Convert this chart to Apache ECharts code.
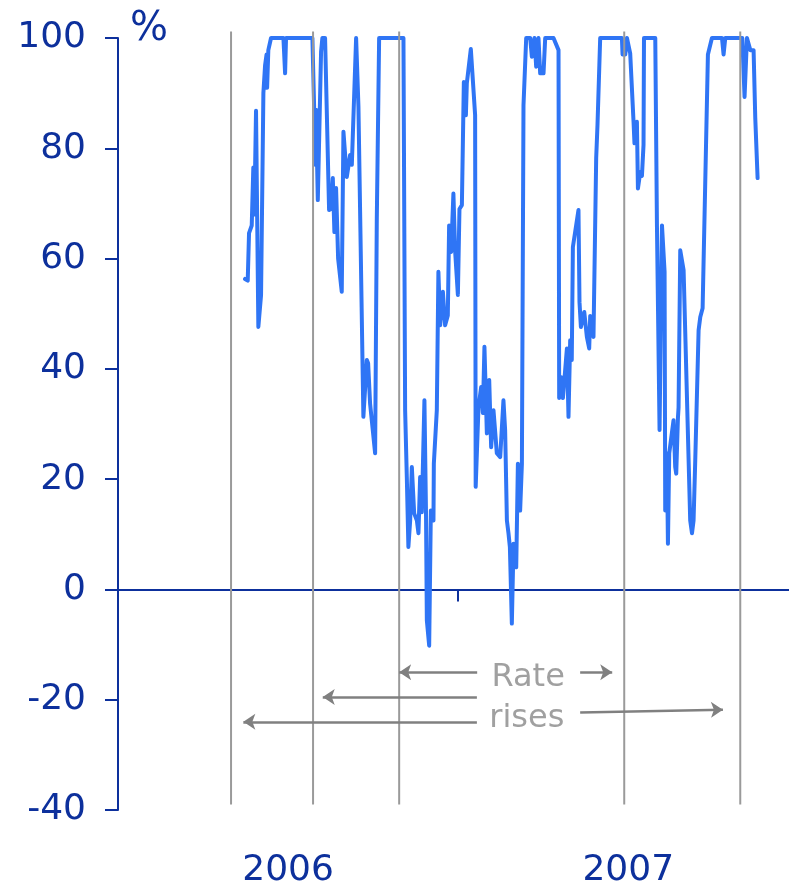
<!DOCTYPE html>
<html>
<head>
<meta charset="utf-8">
<style>
  html, body { margin: 0; padding: 0; background: #fff; }
  #chart { width: 789px; height: 885px; }
</style>
<script src="https://cdn.jsdelivr.net/npm/echarts@6/dist/echarts.min.js"></script>
</head>
<body>
<div id="chart"></div>
<script>
// x = days since 1 Jan 2006, y = per cent
const days = [
  136.3, 139.2, 140.6, 143.5, 145.2, 146.3, 148.1, 150.6, 153.5, 156.0,
  157.8, 159.4, 160.0, 161.3, 164.2, 177.5, 179.3, 180.3, 208.6, 210.4,
  211.5, 212.5, 214.4, 215.8, 217.9, 219.3, 222.2, 226.5, 228.7, 230.5,
  232.2, 234.0, 236.2, 240.1, 241.9, 245.5, 249.1, 250.9, 255.5, 258.0,
  259.8, 263.3, 267.0, 268.4, 270.5, 275.9, 277.7, 280.2, 306.3, 308.1,
  309.9, 311.6, 313.5, 315.3, 317.8, 320.7, 322.4, 324.2, 326.0, 328.8,
  330.5, 331.4, 333.9, 335.7, 338.5, 338.9, 342.1, 343.8, 345.7, 348.6,
  351.0, 353.9, 355.3, 357.5, 359.9, 361.8, 364.7, 366.4, 369.0, 371.1,
  373.3, 374.3, 378.6, 383.2, 383.8, 386.8, 389.7, 391.5, 393.2, 395.8,
  398.3, 400.4, 402.9, 406.5, 410.1, 413.6, 415.4, 417.3, 419.0, 420.5,
  422.6, 424.4, 427.3, 429.1, 431.5, 433.4, 435.1, 438.0, 442.3, 444.1,
  446.9, 448.7, 451.2, 453.0, 456.6, 458.4, 467.3, 472.7, 473.4, 475.6,
  477.4, 481.7, 483.4, 485.2, 486.9, 488.1, 494.1, 495.2, 496.7, 500.3,
  503.1, 505.6, 506.7, 510.2, 513.1, 514.5, 517.4, 540.7, 541.4, 544.3,
  546.1, 549.6, 553.2, 554.2, 556.8, 557.9, 560.4, 562.2, 563.9, 564.4,
  576.5, 578.3, 581.1, 583.7, 586.5, 587.2, 589.0, 590.1, 591.5, 596.1,
  597.9, 599.0, 600.8, 601.5, 603.3, 606.9, 614.0, 615.9, 617.6, 619.4,
  623.0, 624.8, 627.3, 633.0, 637.3, 648.1, 649.8, 651.6, 669.9, 672.3,
  674.9, 676.6, 678.5, 682.0, 683.8, 686.3
]
const pct = [
  56.3, 56, 64.6, 66, 76.5, 68, 86.8, 47.6, 53.4, 90,
  95, 97, 91, 97.8, 100, 100, 93.6, 100, 100, 87.8,
  77, 87, 70.6, 70.6, 97.5, 100, 100, 68.8, 69, 74.6,
  64.8, 72.8, 60, 54, 83, 74.8, 78.8, 77, 100, 87.5,
  87.5, 31.3, 41.6, 41, 33.7, 24.7, 67.3, 100, 100, 32.5,
  20.4, 7.7, 12.5, 22.2, 13.8, 12.5, 10.2, 20.4, 14, 34.3,
  13.8, -5.6, -10.2, 14.3, 12.5, 22.8, 32.5, 57.6, 47.9, 54,
  47.9, 49.7, 66, 61.2, 71.8, 61.2, 53.4, 69, 69.7, 92,
  86, 91.8, 98, 86, 18.6, 33, 36.7, 32, 44, 28.3,
  38, 25.8, 32.5, 24.7, 24, 34.3, 28.9, 12.5, 10.2, 7.7,
  -6.2, 8.3, 4, 22.8, 14.3, 22.8, 87.8, 100, 100, 96.6,
  100, 94.8, 100, 93.6, 93.6, 100, 100, 97.8, 34.7, 38.5,
  34.7, 43.7, 31.3, 45.2, 41.6, 62.1, 68.8, 52.1, 47.6, 50.3,
  45.8, 43.7, 49.6, 45.8, 78.2, 84.2, 100, 100, 97, 97,
  100, 97.2, 84.8, 80.9, 84.8, 72.7, 75.7, 75, 80.6, 100,
  100, 66, 28.9, 66, 57.6, 14.3, 24.7, 8.3, 24.7, 30.7,
  22.2, 21, 31, 33, 61.5, 57.9, 12.5, 10.2, 12.5, 23.4,
  47, 49.4, 51, 97, 100, 100, 97, 100, 100, 89.3,
  100, 100, 97.8, 97.8, 85.5, 74.6
]

// rate rise dates (days since 1 Jan 2006)
const riseDays = [121.3, 209.3, 301.7, 543.2, 667.7]

const yearLabels = ['2006', '2007']
const yearMid = [182.5, 547.5]

// annotation arrows: [fromDay, fromPct, toDay, toPct]
const arrows = [
  [385.4, -15.0, 301.7, -15.0],
  [495.9, -15.0, 530.3, -15.0],
  [385.1, -19.5, 219.7, -19.5],
  [385.1, -24.0, 134.5, -24.0],
  [495.9, -22.3, 649.1, -21.8]
]
const notes = [[440.1, -16.0, 'Rate'], [438.7, -23.5, 'rises']]

const navy = '#0d309c'
const font = 'DejaVu Sans'

const chart = echarts.init(document.getElementById('chart'))

const riseSeries = riseDays.map(d => ({
    type: 'line',
    data: [[d, 101.2], [d, -39]],
    symbol: 'none',
    clip: false,
    silent: true,
    z: 4,
    lineStyle: { color: '#9a9a9a', width: 2 }
}))

chart.setOption({
    animation: false,
    grid: { left: 118, right: 0, top: 38, bottom: 75, outerBoundsMode: 'none' },
    graphic: [{
        type: 'text',
        left: 130,
        top: 10,
        style: { text: '%', fontSize: 40, fontFamily: font, fill: navy }
    }],
    xAxis: [{
        type: 'value',
        min: 0,
        max: 720,
        axisLine: { onZero: true, lineStyle: { color: navy, width: 2 } },
        axisTick: { show: true, customValues: [0, 365], length: 12, lineStyle: { color: navy, width: 2 } },
        axisLabel: { show: false },
        splitLine: { show: false }
    }, {
        type: 'value',
        min: 0,
        max: 720,
        position: 'bottom',
        axisLine: { show: false, onZero: false },
        axisTick: { show: false },
        splitLine: { show: false },
        axisLabel: {
            customValues: yearMid,
            formatter: v => yearLabels[v < 365 ? 0 : 1],
            fontSize: 36,
            fontFamily: font,
            color: navy,
            margin: 43
        }
    }],
    yAxis: {
        type: 'value',
        min: -40,
        max: 100,
        interval: 20,
        axisLine: { show: true, lineStyle: { color: navy, width: 2 } },
        axisTick: { show: true, length: 13, lineStyle: { color: navy, width: 2 } },
        axisLabel: { fontSize: 36, fontFamily: font, color: navy, margin: 32 },
        splitLine: { show: false }
    },
    series: [
        ...riseSeries,
        {
            type: 'line',
            data: days.map((d, i) => [d, pct[i]]),
            symbol: 'none',
            z: 3,
            lineStyle: { color: '#2f75f5', width: 4, join: 'round', cap: 'round' }
        },
        {
            type: 'lines',
            coordinateSystem: 'cartesian2d',
            silent: true,
            z: 5,
            symbol: ['none', 'arrow'],
            symbolSize: 12,
            lineStyle: { color: '#808080', width: 2.5, opacity: 1, curveness: 0 },
            data: arrows.map(a => ({ coords: [[a[0], a[1]], [a[2], a[3]]] }))
        },
        {
            type: 'scatter',
            symbolSize: 0,
            silent: true,
            z: 5,
            data: notes,
            label: {
                show: true,
                position: 'inside',
                formatter: p => p.data[2],
                fontSize: 32,
                fontFamily: font,
                color: '#888888'
            }
        }
    ]
})
</script>
</body>
</html>
